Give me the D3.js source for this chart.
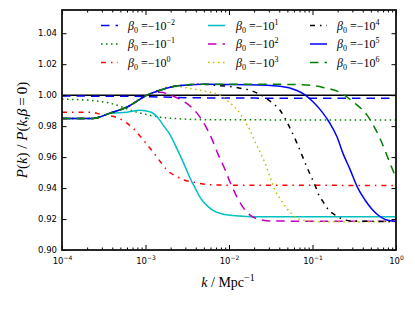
<!DOCTYPE html>
<html><head><meta charset="utf-8">
<script src="https://cdn.jsdelivr.net/npm/d3@7"></script>
<style>body{margin:0;background:#fff;} svg{display:block;}</style>
</head><body>
<svg id="c" width="415" height="311"></svg>
<script>
// ---------- data ----------
const kTicks = [1e-4, 1e-3, 1e-2, 1e-1, 1];
const kTickExp = ["\u22124", "\u22123", "\u22122", "\u22121", "0"];
const yTicks = [0.90, 0.92, 0.94, 0.96, 0.98, 1.00, 1.02, 1.04];
const betaExp = ["\u22122", "\u22121", "0", "1", "2", "3", "4", "5", "6"];

// shared low-k rise (log10 k, P ratio)
const riseLogK = [-4, -3.629, -3.425, -3.222, -2.982, -2.826, -2.611, -2.311];
const riseP    = [0.985, 0.985, 0.9884, 0.9923, 1.000, 1.0032, 1.0061, 1.0071];

const bm2LogK = [-4, -3.2, -2.8, -2.4, -1.8, 0];
const bm2P    = [0.9994, 0.9993, 0.9988, 0.9983, 0.9981, 0.9980];

const bm1LogK = [-4, -3.7, -3.425, -3.102, -2.826, -2.611, -2.347, 0];
const bm1P    = [0.9974, 0.9968, 0.9948, 0.989, 0.9858, 0.9848, 0.9842, 0.9839];

const b0LogK = [-4, -3.641, -3.545, -3.329, -3.222, -3.150, -3.006, -2.862, -2.802, -2.731, -2.635, -2.539, -2.431, -2.311, -2.108, 0];
const b0P    = [0.989, 0.989, 0.9877, 0.9852, 0.9819, 0.9787, 0.9697, 0.960, 0.9555, 0.951, 0.9477, 0.9452, 0.9439, 0.9426, 0.9419, 0.9417];

const b1LogK = [-4, -3.629, -3.425, -3.222, -3.066, -2.946, -2.862, -2.780, -2.707, -2.611, -2.530, -2.467, -2.400, -2.347, -2.250, -2.192, -2.100, -1.988, -1.800, -1.665, 0];
const b1P    = [0.985, 0.985, 0.9882, 0.989, 0.9903, 0.9893, 0.986, 0.980, 0.9745, 0.9640, 0.9545, 0.9465, 0.9395, 0.9340, 0.9280, 0.9256, 0.9236, 0.9224, 0.9217, 0.9215, 0.9215];

const b2LogK = [-2.90, -2.826, -2.671, -2.527, -2.383, -2.287, -2.204, -2.132, -2.060, -1.988, -1.904, -1.808, -1.653, -1.473, 0];
const b2P    = [1.0015, 1.0019, 0.9994, 0.9955, 0.9884, 0.9806, 0.9716, 0.9619, 0.9535, 0.9439, 0.9342, 0.9258, 0.920, 0.9187, 0.9185];

const b3LogK = [-2.707, -2.611, -2.467, -2.311, -2.168, -2.072, -1.988, -1.928, -1.868, -1.808, -1.749, -1.689, -1.629, -1.569, -1.521, -1.449, -1.365, -1.257, -1.150, -0.946, 0];
const b3P    = [1.0055, 1.0055, 1.0043, 1.0028, 1.0011, 0.9989, 0.995, 0.9921, 0.9882, 0.9828, 0.9774, 0.9699, 0.9634, 0.9561, 0.949, 0.9387, 0.9312, 0.9237, 0.9198, 0.9183, 0.9183];

const b4LogK = [-2.192, -1.964, -1.844, -1.749, -1.653, -1.473, -1.389, -1.329, -1.281, -1.186, -1.102, -1.066, -1.018, -0.970, -0.934, -0.874, -0.814, -0.731, -0.635, -0.515, 0];
const b4P    = [1.0065, 1.0054, 1.0043, 1.0032, 1.0011, 0.9946, 0.9903, 0.985, 0.980, 0.969, 0.9581, 0.9534, 0.9477, 0.9419, 0.9366, 0.9312, 0.9263, 0.9226, 0.9198, 0.9187, 0.9184];

const b5LogK = [-1.749, -1.389, -1.186, -1.090, -0.994, -0.886, -0.790, -0.707, -0.635, -0.551, -0.455, -0.371, -0.287, -0.216, -0.132, -0.036, 0];
const b5P    = [1.0068, 1.0058, 1.0030, 1.0002, 0.9957, 0.9892, 0.9817, 0.9731, 0.9624, 0.9521, 0.9398, 0.9323, 0.9263, 0.9226, 0.9198, 0.9187, 0.9185];

const b6LogK = [-1.749, -1.389, -1.066, -0.874, -0.647, -0.515, -0.347, -0.192, -0.072, 0];
const b6P    = [1.0071, 1.0070, 1.0065, 1.005, 1.0011, 0.9957, 0.9871, 0.9721, 0.9561, 0.9465];

// styles
const colors = ["#0000ff", "#008000", "#ff0000", "#00bfbf", "#bf00bf", "#bfbf00", "#000000", "#0000ff", "#008000"];
const dashes = ["8.5 6", "1.5 3.5", "5 5 1.5 5", null, "8.5 6", "1.5 3.5", "5 5 1.5 5", null, "8.5 6"];

// ---------- build ----------
function pts(lk, p) { return lk.map((v, i) => [Math.pow(10, v), p[i]]); }
const rise = pts(riseLogK, riseP);
const seriesData = [
  pts(bm2LogK, bm2P),
  pts(bm1LogK, bm1P),
  pts(b0LogK, b0P),
  pts(b1LogK, b1P),
  rise.slice(0, 5).concat(pts(b2LogK, b2P)),
  rise.slice(0, 6).concat(pts(b3LogK, b3P)),
  rise.concat(pts(b4LogK, b4P)),
  rise.concat(pts(b5LogK, b5P)),
  rise.concat(pts(b6LogK, b6P))
];

const L = 62, R = 396, T = 10, B = 250;
const svg = d3.select("#c");
const x = d3.scaleLog().domain([1e-4, 1]).range([L, R]);
const y = d3.scaleLinear().domain([0.90, 1.055]).range([B, T]);

svg.append("defs").append("clipPath").attr("id", "clip")
  .append("rect").attr("x", L).attr("y", T).attr("width", R - L).attr("height", B - T);

const plot = svg.append("g").attr("clip-path", "url(#clip)");
plot.append("line").attr("x1", L).attr("x2", R).attr("y1", y(1)).attr("y2", y(1))
  .attr("stroke", "#000").attr("stroke-width", 1.5);

const line = d3.line().x(d => x(d[0])).y(d => y(d[1])).curve(d3.curveMonotoneX);
seriesData.forEach((d, i) => {
  plot.append("path").attr("d", line(d)).attr("fill", "none")
    .attr("stroke", colors[i]).attr("stroke-width", 1.5)
    .attr("stroke-dasharray", dashes[i]);
});

// axes
const minors = [];
for (let e = -4; e < 0; e++) for (let m = 2; m <= 9; m++) minors.push(m * Math.pow(10, e));

function styleAxis(g) {
  g.select(".domain").remove();
  g.selectAll(".tick line").attr("stroke", "#000").attr("stroke-width", 1);
}
const bottomAx = svg.append("g").attr("transform", `translate(0,${B})`)
  .call(d3.axisBottom(x).tickValues(kTicks).tickSize(-5).tickFormat(""));
styleAxis(bottomAx);
bottomAx.selectAll(".tick").each(function(d, i) {
  const t = d3.select(this).append("text").attr("y", 14).attr("text-anchor", "middle")
    .attr("fill", "#000").attr("font-family", "DejaVu Sans, sans-serif").attr("font-size", 8.5);
  t.append("tspan").text("10");
  t.append("tspan").attr("dy", -4).attr("font-size", 6).text(kTickExp[i]);
});
styleAxis(svg.append("g").attr("transform", `translate(0,${B})`)
  .call(d3.axisBottom(x).tickValues(minors).tickSize(-2.5).tickFormat("")));
styleAxis(svg.append("g").attr("transform", `translate(0,${T})`)
  .call(d3.axisTop(x).tickValues(kTicks).tickSize(-5).tickFormat("")));
styleAxis(svg.append("g").attr("transform", `translate(0,${T})`)
  .call(d3.axisTop(x).tickValues(minors).tickSize(-2.5).tickFormat("")));

const leftAx = svg.append("g").attr("transform", `translate(${L},0)`)
  .call(d3.axisLeft(y).tickValues(yTicks).tickSize(-4.5).tickPadding(5).tickFormat(d3.format(".2f")));
styleAxis(leftAx);
leftAx.selectAll(".tick text").attr("font-family", "DejaVu Sans, sans-serif").attr("font-size", 8.5).attr("fill", "#000");
styleAxis(svg.append("g").attr("transform", `translate(${R},0)`)
  .call(d3.axisRight(y).tickValues(yTicks).tickSize(-4.5).tickFormat("")));

svg.append("rect").attr("x", L).attr("y", T).attr("width", R - L).attr("height", B - T)
  .attr("fill", "none").attr("stroke", "#111").attr("stroke-width", 1.8);

// axis labels
const serif = "Liberation Serif, DejaVu Serif, serif";
const xl = svg.append("text").attr("x", 228).attr("y", 287).attr("text-anchor", "middle")
  .attr("font-family", serif).attr("font-size", 14).attr("fill", "#000");
xl.append("tspan").attr("font-style", "italic").text("k");
xl.append("tspan").text(" / Mpc");
xl.append("tspan").attr("dy", -6).attr("font-size", 10).text("\u22121");

const yl = svg.append("text").attr("transform", "translate(27,130) rotate(-90)").attr("text-anchor", "middle")
  .attr("font-family", serif).attr("font-size", 15).attr("fill", "#000");
yl.append("tspan").attr("font-style", "italic").text("P");
yl.append("tspan").text("(");
yl.append("tspan").attr("font-style", "italic").text("k");
yl.append("tspan").text(") / ");
yl.append("tspan").attr("font-style", "italic").text("P");
yl.append("tspan").text("(");
yl.append("tspan").attr("font-style", "italic").text("k");
yl.append("tspan").text(",");
yl.append("tspan").attr("font-style", "italic").text("\u03b2");
yl.append("tspan").text("\u2009=\u20090)");

// legend
const colHandle = [101, 208, 310], colLabel = [128, 236, 337], rowY = [25.5, 44, 62.5];
betaExp.forEach((e, i) => {
  const c = Math.floor(i / 3), r = i % 3;
  const yy = rowY[r];
  svg.append("line").attr("x1", colHandle[c]).attr("x2", colHandle[c] + 17)
    .attr("y1", yy).attr("y2", yy).attr("stroke", colors[i]).attr("stroke-width", 1.5)
    .attr("stroke-dasharray", dashes[i]);
  const t = svg.append("text").attr("x", colLabel[c]).attr("y", yy + 4)
    .attr("font-family", serif).attr("font-size", 12).attr("fill", "#000");
  t.append("tspan").attr("font-style", "italic").text("\u03b2");
  t.append("tspan").attr("dy", 3).attr("font-size", 8).text("0");
  t.append("tspan").attr("dy", -3).text(" =\u221210");
  t.append("tspan").attr("dy", -5).attr("font-size", 8).text(e);
});
</script>
</body></html>
